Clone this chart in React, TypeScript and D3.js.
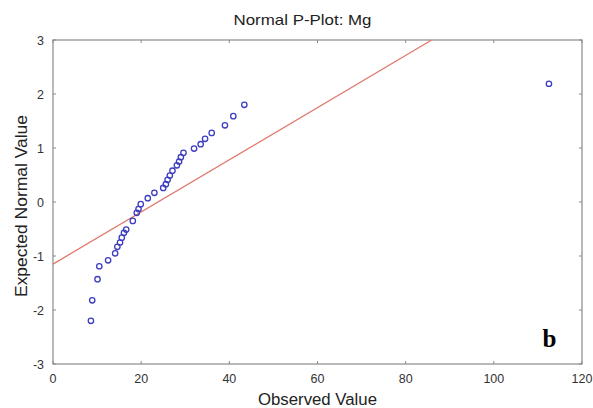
import React from "react";
import * as d3 from "d3";

const observed = [8.6, 8.9, 10.1, 10.5, 12.5, 14.1, 14.6, 15.2, 15.6, 16.1, 16.6, 18.1, 19.0, 19.4, 19.9, 21.5, 23.0, 25.0, 25.6, 26.0, 26.5, 27.1, 28.1, 28.6, 29.0, 29.6, 32.0, 33.5, 34.5, 36.0, 39.0, 40.9, 43.4, 112.5];
const expected = [-2.2, -1.82, -1.43, -1.19, -1.08, -0.95, -0.83, -0.75, -0.66, -0.57, -0.51, -0.35, -0.2, -0.13, -0.04, 0.07, 0.17, 0.26, 0.33, 0.41, 0.49, 0.58, 0.68, 0.75, 0.83, 0.91, 0.99, 1.07, 1.17, 1.28, 1.42, 1.59, 1.8, 2.19];
const xTicks = [0, 20, 40, 60, 80, 100, 120];
const yTicks = [-3, -2, -1, 0, 1, 2, 3];
const lineMean = 23.8;
const lineSd = 20.7;

const W = 593, H = 408;
const L = 53, R = 582, T = 40, B = 364;

export default function App() {
  const x = d3.scaleLinear().domain([0, 120]).range([L, R]);
  const y = d3.scaleLinear().domain([-3, 3]).range([B, T]);
  const font = "'Liberation Sans', Arial, sans-serif";
  const yAt = (v: number) => (v - lineMean) / lineSd;
  const x0 = 0;
  let x1 = 120;
  if (yAt(x1) > 3) x1 = lineMean + 3 * lineSd;
  const pts = observed.map((o, i) => [o, expected[i]]);
  return (
    <svg width={W} height={H} style={{ position: "absolute", left: 0, top: 0, background: "#fff" }}>
      <rect x={0} y={0} width={W} height={H} fill="#fff" />
      <text x={302.5} y={25} textAnchor="middle" fontFamily={font} fontSize={15} fill="#222" textLength={138} lengthAdjust="spacingAndGlyphs">Normal P-Plot: Mg</text>
      <rect x={L} y={T} width={R - L} height={B - T} fill="none" stroke="#8a8a8a" strokeWidth={1.2} />
      {xTicks.map((t) => (
        <g key={"x" + t}>
          <line x1={x(t)} x2={x(t)} y1={B} y2={B - 3} stroke="#8a8a8a" />
          <line x1={x(t)} x2={x(t)} y1={T} y2={T + 3} stroke="#8a8a8a" />
          <text x={x(t)} y={383} textAnchor="middle" fontFamily={font} fontSize={12.5} fill="#333">{t}</text>
        </g>
      ))}
      {yTicks.map((t) => (
        <g key={"y" + t}>
          <line x1={L} x2={L + 3} y1={y(t)} y2={y(t)} stroke="#8a8a8a" />
          <line x1={R} x2={R - 3} y1={y(t)} y2={y(t)} stroke="#8a8a8a" />
          <text x={44} y={y(t) + 4.5} textAnchor="end" fontFamily={font} fontSize={12.5} fill="#333">{t}</text>
        </g>
      ))}
      <line x1={x(x0)} y1={y(yAt(x0))} x2={x(x1)} y2={y(yAt(x1))} stroke="#e07a6e" strokeWidth={1.3} />
      {pts.map((p, i) => (
        <circle key={i} cx={x(p[0])} cy={y(p[1])} r={2.7} fill="none" stroke="#3c3cc0" strokeWidth={1.3} />
      ))}
      <text x={317.5} y={405} textAnchor="middle" fontFamily={font} fontSize={16} fill="#222" textLength={119} lengthAdjust="spacingAndGlyphs">Observed Value</text>
      <text transform={`translate(27,206) rotate(-90)`} textAnchor="middle" fontFamily={font} fontSize={16} fill="#222" textLength={182} lengthAdjust="spacingAndGlyphs">Expected Normal Value</text>
      <text x={549.5} y={347} textAnchor="middle" fontFamily="'Liberation Serif', 'Times New Roman', serif" fontWeight="bold" fontSize={25} fill="#000">b</text>
    </svg>
  );
}
